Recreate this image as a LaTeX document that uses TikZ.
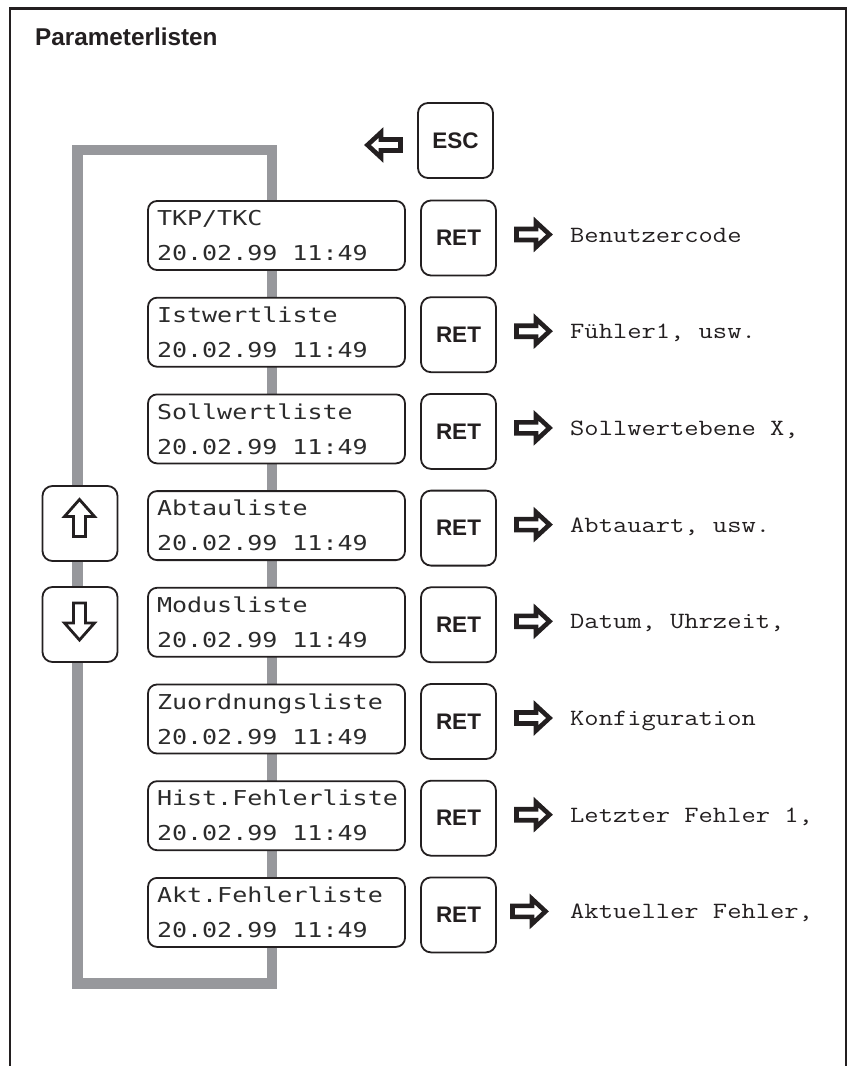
\documentclass[tikz,border=0pt]{standalone}
\usepackage{fontspec}
\setmainfont{Liberation Sans}
\newfontfamily\lcdfont[FakeStretch=1.22]{DejaVu Sans Mono}
\newfontfamily\courfont[FakeStretch=1.19]{Latin Modern Mono}
\definecolor{ink}{HTML}{231F20}
\definecolor{loopgray}{HTML}{97989C}
\definecolor{lcdink}{HTML}{2B2B2B}
\tikzset{
  lcdbox/.style={draw=ink, line width=1.8pt, rounded corners=9pt, fill=white,
    minimum width=257pt, minimum height=69pt, text width=239pt, inner xsep=9pt, inner ysep=0pt,
    align=left, font=\lcdfont\fontsize{20.5}{35}\selectfont, text=lcdink},
  keybox/.style={draw=ink, line width=1.8pt, rounded corners=10pt, fill=white,
    minimum width=75pt, minimum height=75pt, inner sep=0pt,
    font=\bfseries\fontsize{22.5}{24}\selectfont, text=ink},
  reply/.style={anchor=base west, inner sep=0pt, font=\courfont\fontsize{23.3}{28}\selectfont, text=ink},
  hollow/.style={draw=ink, fill=white, line join=miter},
  rarrow/.pic={\path[hollow, line width=4.6pt] (-16.5,-5.5) -- (3,-5.5) -- (3,-12.5) -- (16.5,0) -- (3,12.5) -- (3,5.5) -- (-16.5,5.5) -- cycle;},
  uarrow/.pic={\path[hollow, line width=2.8pt] (0,-19) -- (15,-2) -- (6,-2) -- (6,18) -- (-6,18) -- (-6,-2) -- (-15,-2) -- cycle;},
}
\begin{document}
\begin{tikzpicture}[x=1pt, y=-1pt]
\useasboundingbox (0,0) rectangle (852,1066);
% outer frame (open at the bottom)
\draw[ink, line width=2.5pt] (10,1066) -- (10,8.7) -- (846,8.7) -- (846,1066);
% title
\node[anchor=base west, inner sep=0pt, font=\bfseries\fontsize{24.3}{28}\selectfont, text=ink] (title) at (35,45.7) {Parameterlisten};
% grey navigation loop
\draw[loopgray, line width=10.5pt, line join=miter] (77.5,150) rectangle (272,983.5);
% ESC key and its arrow
\node[keybox] (esc) at (455.5,140.5) {ESC};
\pic[xscale=-1] at (384,145) {rarrow};
% up / down keys
\node[keybox] (up) at (80,523.5) {};
\node[keybox] (down) at (80,624.5) {};
\pic at (79.5,518.5) {uarrow};
\pic[rotate=180] at (79.5,621) {uarrow};
% list rows
\foreach \i/\lname/\reptext/\ax in {
  0/{TKP/TKC}/{Benutzercode}/533,
  1/{Istwertliste}/{Fühler1, usw.}/533,
  2/{Sollwertliste}/{Sollwertebene X,}/533,
  3/{Abtauliste}/{Abtauart, usw.}/533,
  4/{Modusliste}/{Datum, Uhrzeit,}/533,
  5/{Zuordnungsliste}/{Konfiguration}/533,
  6/{Hist.Fehlerliste}/{Letzter Fehler 1,}/533,
  7/{Akt.Fehlerliste}/{Aktueller Fehler,}/529}{
  \pgfmathsetmacro\yy{238+96.7*\i}
  \node[lcdbox] (lcd\i) at (276.5,\yy-2.5) {\hyphenpenalty=10000 \spaceskip=15pt\relax \lname\\20.02.99 11:49};
  \node[keybox] (ret\i) at (458.5,\yy) {RET};
  \pic at (\ax,\yy-3.5) {rarrow};
  \node[reply] (txt\i) at (570,\yy+4) {\reptext};
}
\end{tikzpicture}
\end{document}
